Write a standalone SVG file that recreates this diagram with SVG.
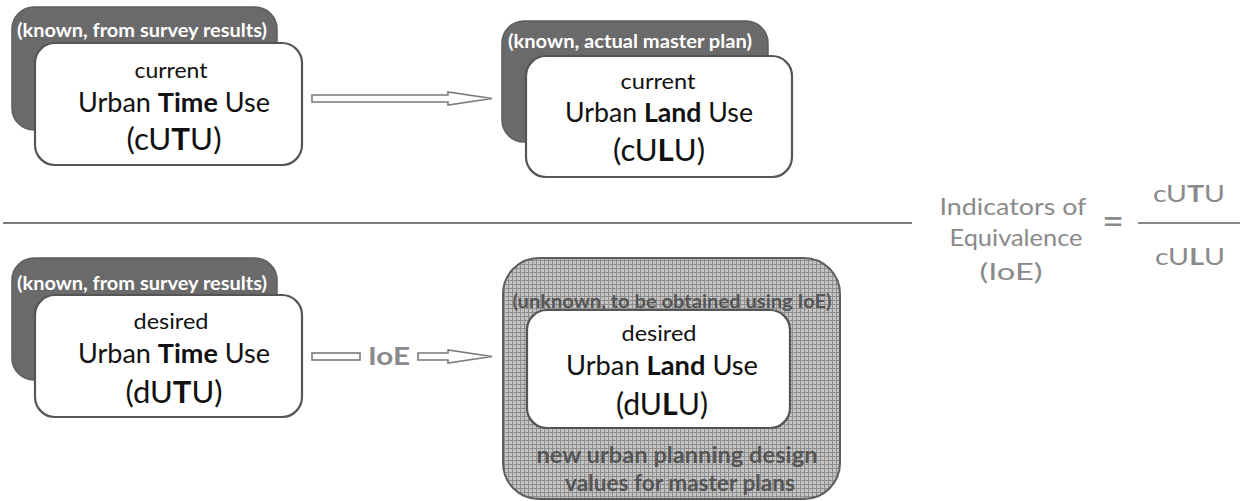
<svg xmlns="http://www.w3.org/2000/svg" width="1252" height="501" viewBox="0 0 1252 501">
<defs>
<pattern id="hatch" width="4" height="4" patternUnits="userSpaceOnUse">
<rect width="4" height="4" fill="#c4c4c4"/>
<path d="M0,0.5 H4 M0.5,0 V4" stroke="#8e8e8e" stroke-width="1"/>
</pattern>
</defs>
<style>
text{font-family:Lato,"Open Sans","Liberation Sans",sans-serif;text-anchor:middle}
.back{fill:#6a6a6a;stroke:#5e5e5e;stroke-width:1.5}
.front{fill:#fff;stroke:#555;stroke-width:2.2}
.tag{fill:#fff;font-weight:bold;font-size:18px}
.sm{fill:#111;font-size:22px}
.md{fill:#111;font-size:27px}
.lg{fill:#111;font-size:30px}
.b{font-weight:bold}
.arrow{fill:#fff;stroke:#7a7a7a;stroke-width:1.6}
.gray{fill:#8a8a8a;font-size:23px}
.hb{fill:#555;font-weight:bold}
</style>
<rect width="1252" height="501" fill="#fff"/>
<line x1="3" y1="223" x2="912" y2="223" stroke="#7a7a7a" stroke-width="2"/>

<g id="cUTU">
<rect class="back" x="12" y="7" width="265" height="123" rx="22"/>
<text class="tag" x="142" y="37" textLength="250" lengthAdjust="spacingAndGlyphs">(known, from survey results)</text>
<rect class="front" x="35" y="43" width="267" height="122" rx="20"/>
<text class="sm" x="171" y="78" textLength="73" lengthAdjust="spacingAndGlyphs">current</text>
<text class="md" x="174" y="112" textLength="192" lengthAdjust="spacingAndGlyphs">Urban <tspan class="b">Time</tspan> Use</text>
<text class="lg" x="174" y="150" textLength="95" lengthAdjust="spacingAndGlyphs">(cU<tspan class="b">T</tspan>U)</text>
</g>

<g id="cULU">
<rect class="back" x="502" y="21" width="266" height="121" rx="22"/>
<text class="tag" x="630" y="48" textLength="244" lengthAdjust="spacingAndGlyphs">(known, actual master plan)</text>
<rect class="front" x="526" y="56" width="266" height="121" rx="20"/>
<text class="sm" x="658" y="89" textLength="75" lengthAdjust="spacingAndGlyphs">current</text>
<text class="md" x="659" y="122" textLength="188" lengthAdjust="spacingAndGlyphs">Urban <tspan class="b">Land</tspan> Use</text>
<text class="lg" x="659" y="161" textLength="92" lengthAdjust="spacingAndGlyphs">(cU<tspan class="b">L</tspan>U)</text>
</g>

<g id="dUTU">
<rect class="back" x="12" y="258" width="265" height="122" rx="22"/>
<text class="tag" x="142" y="290" textLength="250" lengthAdjust="spacingAndGlyphs">(known, from survey results)</text>
<rect class="front" x="35" y="295" width="267" height="122" rx="20"/>
<text class="sm" x="171" y="329" textLength="75" lengthAdjust="spacingAndGlyphs">desired</text>
<text class="md" x="174" y="363" textLength="192" lengthAdjust="spacingAndGlyphs">Urban <tspan class="b">Time</tspan> Use</text>
<text class="lg" x="174" y="403" textLength="97" lengthAdjust="spacingAndGlyphs">(dU<tspan class="b">T</tspan>U)</text>
</g>

<g id="dULU">
<rect x="503" y="258" width="337" height="241" rx="36" fill="url(#hatch)" stroke="#5e5e5e" stroke-width="2"/>
<text class="hb" x="672" y="308" font-size="18" textLength="319" lengthAdjust="spacingAndGlyphs">(unknown, to be obtained using IoE)</text>
<rect class="front" x="527" y="310" width="263" height="118" rx="20"/>
<text class="sm" x="659" y="341" textLength="75" lengthAdjust="spacingAndGlyphs">desired</text>
<text class="md" x="662" y="375" textLength="192" lengthAdjust="spacingAndGlyphs">Urban <tspan class="b">Land</tspan> Use</text>
<text class="lg" x="662" y="415" textLength="92" lengthAdjust="spacingAndGlyphs">(dU<tspan class="b">L</tspan>U)</text>
<text class="hb" x="677" y="463" font-size="22" textLength="281" lengthAdjust="spacingAndGlyphs">new urban planning design</text>
<text class="hb" x="680" y="491" font-size="22" textLength="230" lengthAdjust="spacingAndGlyphs">values for master plans</text>
</g>

<g id="connectors">
<path class="arrow" d="M312,95 H448 V92 L492,98.5 L448,105 V102 H312 Z"/>
<rect class="arrow" x="312" y="353" width="48" height="7"/>
<path class="arrow" d="M418,353 H448 V350 L492,356.5 L448,363 V360 H418 Z"/>
<text x="389" y="365" fill="#8a8a8a" font-size="25" font-weight="bold" textLength="42" lengthAdjust="spacingAndGlyphs">IoE</text>
</g>

<g id="formula">
<text class="gray" x="1013" y="215" textLength="147" lengthAdjust="spacingAndGlyphs">Indicators of</text>
<text class="gray" x="1016" y="246" textLength="133" lengthAdjust="spacingAndGlyphs">Equivalence</text>
<text class="gray" x="1011" y="280" font-size="25" textLength="63" lengthAdjust="spacingAndGlyphs">(IoE)</text>
<text x="1113" y="235" fill="#8a8a8a" font-size="38">=</text>
<text class="gray" x="1189" y="202" font-size="26" textLength="72" lengthAdjust="spacingAndGlyphs">cU<tspan font-weight="bold">T</tspan>U</text>
<line x1="1138" y1="223" x2="1240" y2="223" stroke="#8a8a8a" stroke-width="2"/>
<text class="gray" x="1190" y="265" font-size="26" textLength="70" lengthAdjust="spacingAndGlyphs">cU<tspan font-weight="bold">L</tspan>U</text>
</g>
</svg>
